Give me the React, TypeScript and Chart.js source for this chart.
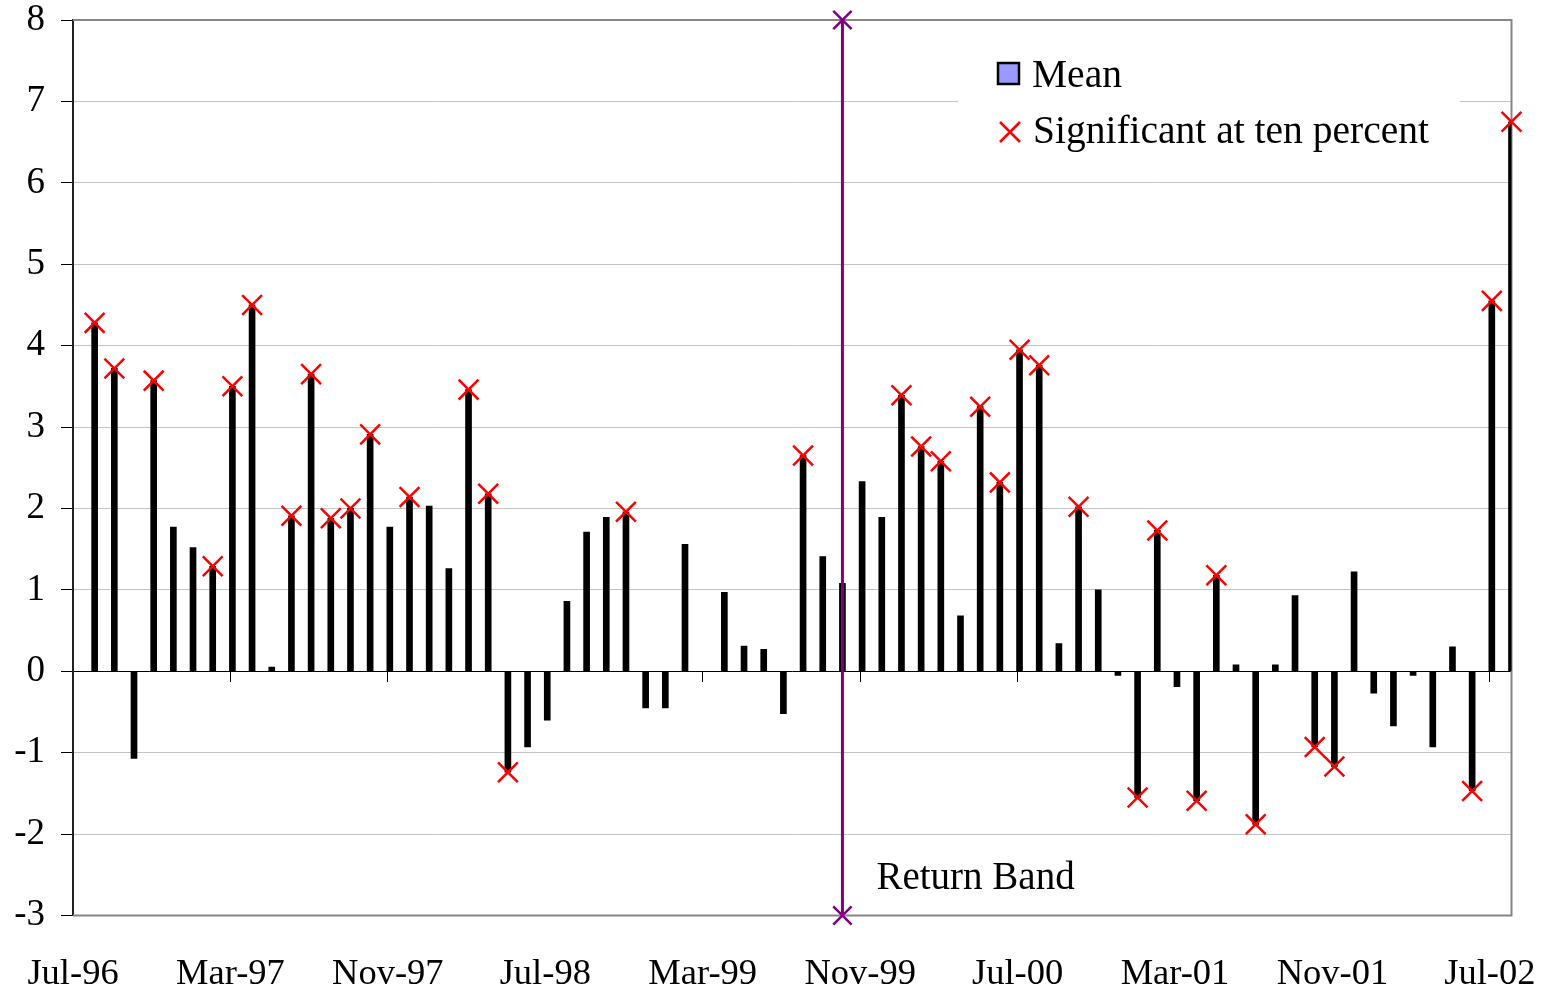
import React, { useEffect, useRef } from 'react';
import { Chart, registerables } from 'chart.js';

Chart.register(...registerables);

// ---------- data ----------
const MONTH_NAMES = ['Jan', 'Feb', 'Mar', 'Apr', 'May', 'Jun', 'Jul', 'Aug', 'Sep', 'Oct', 'Nov', 'Dec'];
const START_YEAR = 1996;
const START_MONTH = 6; // July
const MONTH_COUNT = 73; // Jul-96 .. Jul-02
const MONTHS: string[] = Array.from({ length: MONTH_COUNT }, (_, i) => {
  const m = (START_MONTH + i) % 12;
  const y = START_YEAR + Math.floor((START_MONTH + i) / 12);
  return `${MONTH_NAMES[m]}-${String(y).slice(2)}`;
});

// Monthly mean (one per month, Jul-96 .. Jul-02)
const MEAN_VALUES = [
  4.28, 3.72, -1.07, 3.57, 1.77, 1.52, 1.29, 3.5, 4.5, 0.05, 1.91, 3.65,
  1.88, 2.0, 2.91, 1.77, 2.14, 2.03, 1.26, 3.46, 2.18, -1.24, -0.93, -0.6,
  0.86, 1.71, 1.89, 1.96, -0.45, -0.45, 1.56, 0.0, 0.97, 0.31, 0.27, -0.52,
  2.65, 1.41, 1.08, 2.33, 1.89, 3.39, 2.76, 2.58, 0.68, 3.25, 2.32, 3.95,
  3.76, 0.34, 2.02, 1.0, -0.05, -1.55, 1.73, -0.19, -1.59, 1.18, 0.08, -1.88,
  0.08, 0.93, -0.93, -1.17, 1.22, -0.27, -0.67, -0.05, -0.93, 0.3, -1.47, 4.55,
  6.75,
];

// 1 = significant at ten percent
const SIGNIFICANT = [
  1, 1, 0, 1, 0, 0, 1, 1, 1, 0, 1, 1,
  1, 1, 1, 0, 1, 0, 0, 1, 1, 1, 0, 0,
  0, 0, 0, 1, 0, 0, 0, 0, 0, 0, 0, 0,
  1, 0, 0, 0, 0, 1, 1, 1, 0, 1, 1, 1,
  1, 0, 1, 0, 0, 1, 1, 0, 1, 1, 0, 1,
  0, 0, 1, 1, 0, 0, 0, 0, 0, 0, 1, 1,
  1,
];

const TICK_LABELS = ['Jul-96', 'Mar-97', 'Nov-97', 'Jul-98', 'Mar-99', 'Nov-99', 'Jul-00', 'Mar-01', 'Nov-01', 'Jul-02'];
const TICK_STEP = 8; // months between labels
const RETURN_BAND_MONTH = 'Sep-99';
const RETURN_BAND_RANGE = [8, -3];
const Y_MIN = -3;
const Y_MAX = 8;

// ---------- helpers ----------
const MONTH_END = 1.1; // each month plotted at its month-end
const xOf = (i: number) => i + MONTH_END;
const X_MAX = xOf(MONTHS.length - 1);
const SERIF = '"Liberation Serif", "Times New Roman", serif';

const tickBuilder = (scale: any) => {
  scale.ticks = TICK_LABELS.map((_, k) => ({ value: k * TICK_STEP }));
};

const decorPlugin = {
  id: 'decor',
  beforeDatasetsDraw(chart: any) {
    const { ctx, chartArea: a } = chart;
    ctx.save();
    ctx.strokeStyle = '#868686';
    ctx.lineWidth = 2;
    ctx.beginPath();
    ctx.moveTo(a.left, a.top);
    ctx.lineTo(a.right, a.top);
    ctx.lineTo(a.right, a.bottom);
    ctx.lineTo(a.left, a.bottom);
    ctx.stroke();
    ctx.restore();
  },
  afterDatasetsDraw(chart: any) {
    const { ctx } = chart;
    const xs = chart.scales.x;
    ctx.save();
    // legend box
    ctx.fillStyle = '#ffffff';
    ctx.fillRect(958, 44, 502, 116);
    ctx.fillStyle = '#9999ff';
    ctx.fillRect(998, 63, 21, 21);
    ctx.strokeStyle = '#000';
    ctx.lineWidth = 2.5;
    ctx.strokeRect(998, 63, 21, 21);
    ctx.fillStyle = '#000';
    ctx.font = `39.5px ${SERIF}`;
    ctx.textBaseline = 'alphabetic';
    ctx.textAlign = 'left';
    ctx.fillText('Mean', 1032, 87);
    ctx.strokeStyle = '#ff0000';
    ctx.lineWidth = 2.5;
    ctx.beginPath();
    ctx.moveTo(1000, 122);
    ctx.lineTo(1020, 142);
    ctx.moveTo(1020, 122);
    ctx.lineTo(1000, 142);
    ctx.stroke();
    ctx.fillText('Significant at ten percent', 1033, 143);
    // Return Band label
    const bx = xs.getPixelForValue(xOf(MONTHS.indexOf(RETURN_BAND_MONTH)));
    ctx.font = `39px ${SERIF}`;
    ctx.fillText('Return Band', bx + 34, 889);
    ctx.restore();
  },
};

export default function App() {
  const ref = useRef<HTMLCanvasElement | null>(null);

  useEffect(() => {
    if (!ref.current) return;
    Chart.defaults.font.family = SERIF;
    const bandIdx = MONTHS.indexOf(RETURN_BAND_MONTH);
    const barData = MEAN_VALUES.map((v, i) => ({ x: xOf(i), y: v }));
    const sigData = MEAN_VALUES.map((v, i) => (SIGNIFICANT[i] ? { x: xOf(i), y: v } : null)).filter(Boolean);
    const bandData = RETURN_BAND_RANGE.map((y) => ({ x: xOf(bandIdx), y }));

    const chart = new Chart(ref.current, {
      type: 'bar',
      data: {
        datasets: [
          {
            type: 'scatter',
            label: 'Significant at ten percent',
            data: sigData as any,
            showLine: false,
            pointStyle: 'crossRot',
            pointRadius: 14,
            pointBorderColor: '#ff0000',
            pointBackgroundColor: '#ff0000',
            pointBorderWidth: 2.5,
            clip: false as any,
            order: 0,
          } as any,
          {
            type: 'scatter',
            label: 'Return Band',
            data: bandData,
            showLine: true,
            borderColor: '#800080',
            borderWidth: 3,
            pointStyle: 'crossRot',
            pointRadius: 13,
            pointBorderColor: '#800080',
            pointBorderWidth: 2.5,
            clip: false as any,
            order: 1,
          } as any,
          {
            type: 'bar',
            label: 'Mean',
            data: barData as any,
            backgroundColor: '#000000',
            borderWidth: 0,
            barThickness: 6,
            order: 2,
          } as any,
        ],
      },
      options: {
        animation: false,
        responsive: false,
        maintainAspectRatio: false,
        layout: { padding: { left: 0, right: 35.5, top: 20, bottom: 0 } },
        plugins: { legend: { display: false }, tooltip: { enabled: false } },
        scales: {
          x: {
            type: 'linear',
            position: 'bottom',
            offset: false,
            min: 0,
            max: X_MAX,
            afterBuildTicks: tickBuilder,
            grid: { display: false, drawTicks: false, offset: false },
            border: { display: false },
            ticks: {
              autoSkip: false,
              maxRotation: 0,
              padding: 37.5,
              color: '#000',
              font: { family: SERIF, size: 36.5 },
              callback: (v: any) => TICK_LABELS[Math.round(Number(v) / TICK_STEP)] ?? '',
            },
            afterFit: (s: any) => {
              s.height = 76.5;
              s.paddingLeft = 0;
              s.paddingRight = 0;
            },
          },
          x2: {
            type: 'linear',
            position: { y: 0 },
            offset: false,
            min: 0,
            max: X_MAX,
            afterBuildTicks: tickBuilder,
            ticks: { display: false },
            grid: { drawOnChartArea: false, drawTicks: true, tickLength: 11, color: '#000', lineWidth: 1, offset: false },
            border: { display: false },
          },
          y: {
            type: 'linear',
            min: Y_MIN,
            max: Y_MAX,
            ticks: {
              stepSize: 1,
              padding: 16,
              color: '#000',
              font: { family: SERIF, size: 37 },
            },
            grid: {
              color: (c: any) => (c.tick && c.tick.value === 0 ? '#000000' : '#c4c4c4'),
              lineWidth: 1,
              tickLength: 12,
              tickColor: '#000',
            },
            border: { display: true, color: '#222', width: 2 },
            afterFit: (s: any) => {
              s.width = 73;
              s.paddingTop = 0;
              s.paddingBottom = 0;
            },
          },
        } as any,
      },
      plugins: [decorPlugin],
    });
    return () => chart.destroy();
  }, []);

  return (
    <div style={{ position: 'absolute', left: 0, top: 0, width: 1547, height: 992, background: '#fff' }}>
      <canvas ref={ref} width={1547} height={992} style={{ display: 'block' }} />
    </div>
  );
}
